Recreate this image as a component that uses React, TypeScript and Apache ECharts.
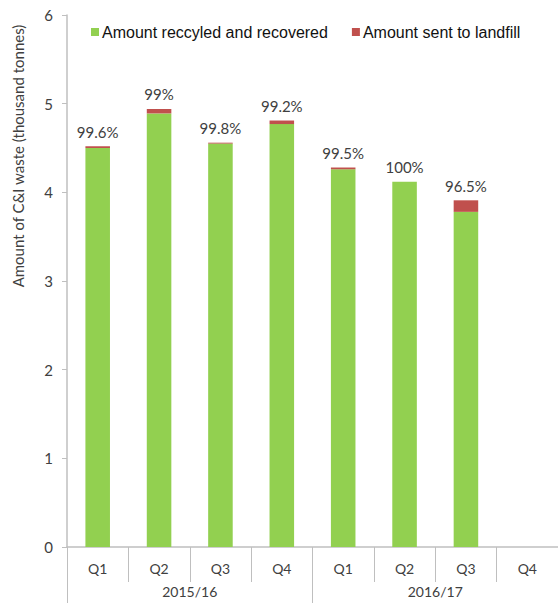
import React, { useEffect, useRef } from "react";
import * as echarts from "echarts";

const quarters = ["Q1", "Q2", "Q3", "Q4", "Q1", "Q2", "Q3", "Q4"];
const years = ["2015/16", "2016/17"];
const recycled = [4.5, 4.89, 4.55, 4.77, 4.26, 4.12, 3.78, null];
const landfill = [0.02, 0.05, 0.01, 0.04, 0.02, 0.0, 0.13, null];
const pctLabels = ["99.6%", "99%", "99.8%", "99.2%", "99.5%", "100%", "96.5%", ""];
const yTicks = { min: 0, max: 6, interval: 1 };

export default function App() {
  const ref = useRef<HTMLDivElement>(null);
  useEffect(() => {
    const chart = echarts.init(ref.current!, null, { renderer: "svg" });
    const axisGray = "#bfbfbf";
    const textGray = "#404040";
    chart.setOption({
      animation: false,
      backgroundColor: "#ffffff",
      grid: { left: 67, right: 0, top: 15, bottom: 56, containLabel: false },
      legend: {
        left: 86,
        top: 19,
        itemWidth: 8,
        itemHeight: 8,
        itemGap: 24,
        icon: "rect",
        textStyle: { fontFamily: "Liberation Sans", fontSize: 16, color: "#111", padding: [0, 0, 0, -2] },
        data: ["Amount reccyled and recovered", "Amount sent to landfill"],
      },
      graphic: [
        {
          type: "text",
          x: 18,
          y: 156,
          rotation: Math.PI / 2,
          style: {
            text: "Amount of C&I waste (thousand tonnes)",
            fontFamily: "Lato",
            fontSize: 15,
            fill: textGray,
            align: "center",
            verticalAlign: "middle",
          },
        },
      ],
      xAxis: [
        {
          type: "category",
          data: quarters,
          position: "bottom",
          axisLine: { show: true, lineStyle: { color: axisGray, width: 1.5 } },
          axisTick: { show: true, interval: 0, length: 35, lineStyle: { color: axisGray } },
          axisLabel: { interval: 0, margin: 14, fontFamily: "Lato", fontSize: 14, color: textGray },
        },
        {
          type: "category",
          data: years,
          position: "bottom",
          axisLine: { show: false },
          axisTick: { show: true, interval: 0, length: 60, lineStyle: { color: axisGray } },
          axisLabel: { interval: 0, margin: 37, fontFamily: "Lato", fontSize: 14, color: textGray },
        },
      ],
      yAxis: {
        type: "value",
        min: yTicks.min,
        max: yTicks.max,
        interval: yTicks.interval,
        splitLine: { show: false },
        axisLine: { show: true, lineStyle: { color: axisGray, width: 1.5 } },
        axisTick: { show: true, length: 5, lineStyle: { color: axisGray } },
        axisLabel: { margin: 14, fontFamily: "Lato", fontSize: 15, color: textGray },
      },
      series: [
        {
          name: "Amount reccyled and recovered",
          type: "bar",
          stack: "total",
          data: recycled,
          barWidth: "40%",
          itemStyle: { color: "#92d050" },
        },
        {
          name: "Amount sent to landfill",
          type: "bar",
          stack: "total",
          data: landfill,
          barWidth: "40%",
          itemStyle: { color: "#c0504d" },
          label: {
            show: true,
            position: "top",
            distance: 7,
            fontFamily: "Lato",
            fontSize: 15,
            color: textGray,
            formatter: (p: any) => pctLabels[p.dataIndex],
          },
        },
      ],
    });
    return () => chart.dispose();
  }, []);
  return (
    <div
      ref={ref}
      style={{ position: "fixed", left: 0, top: 0, width: 558, height: 603 }}
    />
  );
}
